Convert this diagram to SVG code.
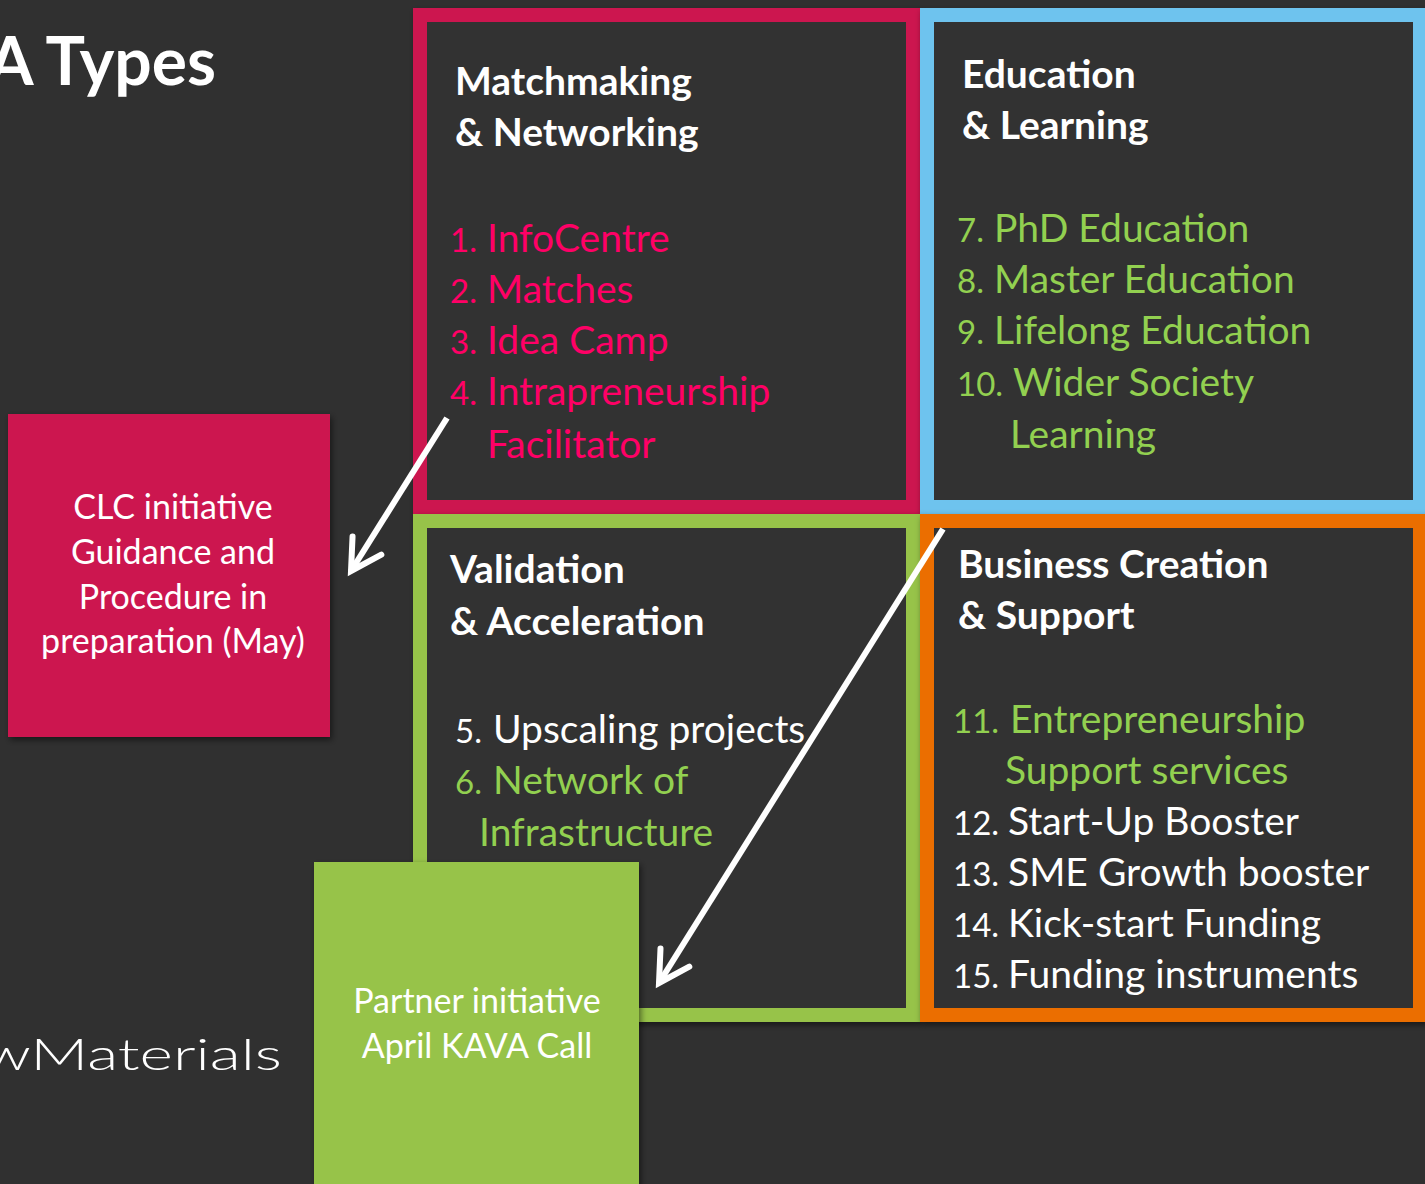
<svg xmlns="http://www.w3.org/2000/svg" width="1425" height="1184" viewBox="0 0 1425 1184">
<style>
text{font-family:Lato,"Open Sans","Liberation Sans",sans-serif}
.h{fill:#fff;font-weight:bold;font-size:39px}
.it{font-size:39px}
.num{font-size:33px}
.pink{fill:#ff0066}
.grn{fill:#92d050}
.wht{fill:#fff}
.frame{fill:#303030;stroke-width:14}
.lbl{fill:#fff;font-size:34px;text-anchor:middle}
.conn{stroke:#fff;stroke-width:6;fill:none;stroke-linecap:butt}
</style>
<defs>
<filter id="sh" x="-10%" y="-10%" width="120%" height="120%">
<feDropShadow dx="2" dy="3" stdDeviation="3" flood-color="#000" flood-opacity="0.5"/>
</filter>
<marker id="ah" markerUnits="userSpaceOnUse" viewBox="-40 -25 50 50" refX="0" refY="0" markerWidth="50" markerHeight="50" orient="auto">
<path d="M -30 -17 L 0 0 L -30 17" fill="none" stroke="#fff" stroke-width="6" stroke-linecap="round" stroke-linejoin="miter"/>
</marker>
</defs>
<rect x="0" y="0" width="1425" height="1184" fill="#303030"/>

<g id="title">
<text x="216" y="85" text-anchor="end" fill="#fff" font-weight="bold" font-size="66">A Types</text>
</g>

<g id="logo">
<text x="282" y="1070" text-anchor="end" fill="#fff" font-size="44" font-weight="300" textLength="300" lengthAdjust="spacingAndGlyphs">wMaterials</text>
</g>

<g id="box-matchmaking">
<rect x="420" y="15" width="493" height="492" class="frame" stroke="#cc1850" filter="url(#sh)"/>
<text class="h" x="455" y="95">Matchmaking</text>
<text class="h" x="455" y="146">&amp; Networking</text>
<text class="num pink" x="450" y="252">1.</text><text class="it pink" x="487" y="252">InfoCentre</text>
<text class="num pink" x="450" y="303">2.</text><text class="it pink" x="487" y="303">Matches</text>
<text class="num pink" x="450" y="354">3.</text><text class="it pink" x="487" y="354">Idea Camp</text>
<text class="num pink" x="450" y="405">4.</text><text class="it pink" x="487" y="405">Intrapreneurship</text>
<text class="it pink" x="487" y="458">Facilitator</text>
</g>

<g id="box-education">
<rect x="927" y="15" width="493" height="492" class="frame" stroke="#6ec3ee" filter="url(#sh)"/>
<text class="h" x="962" y="88">Education</text>
<text class="h" x="962" y="139">&amp; Learning</text>
<text class="num grn" x="957" y="242">7.</text><text class="it grn" x="994" y="242">PhD Education</text>
<text class="num grn" x="957" y="293">8.</text><text class="it grn" x="994" y="293">Master Education</text>
<text class="num grn" x="957" y="344">9.</text><text class="it grn" x="994" y="344">Lifelong Education</text>
<text class="num grn" x="957" y="396">10.</text><text class="it grn" x="1013" y="396">Wider Society</text>
<text class="it grn" x="1010" y="448">Learning</text>
</g>

<g id="box-validation">
<rect x="420" y="521" width="493" height="494" class="frame" stroke="#97c34a" filter="url(#sh)"/>
<text class="h" x="450" y="583">Validation</text>
<text class="h" x="450" y="635">&amp; Acceleration</text>
<text class="num wht" x="455" y="743">5.</text><text class="it wht" x="493" y="743">Upscaling projects</text>
<text class="num grn" x="455" y="794">6.</text><text class="it grn" x="493" y="794">Network of</text>
<text class="it grn" x="479" y="846">Infrastructure</text>
</g>

<g id="box-business">
<rect x="927" y="521" width="493" height="494" class="frame" stroke="#eb6e00" filter="url(#sh)"/>
<text class="h" x="958" y="578">Business Creation</text>
<text class="h" x="958" y="629">&amp; Support</text>
<text class="num grn" x="953" y="733">11.</text><text class="it grn" x="1010" y="733">Entrepreneurship</text>
<text class="it grn" x="1005" y="784">Support services</text>
<text class="num wht" x="953" y="835">12.</text><text class="it wht" x="1008" y="835">Start-Up Booster</text>
<text class="num wht" x="953" y="886">13.</text><text class="it wht" x="1008" y="886">SME Growth booster</text>
<text class="num wht" x="953" y="937">14.</text><text class="it wht" x="1008" y="937">Kick-start Funding</text>
<text class="num wht" x="953" y="988">15.</text><text class="it wht" x="1008" y="988">Funding instruments</text>
</g>

<g id="clc">
<rect x="8" y="414" width="322" height="323" fill="#cc1850" filter="url(#sh)"/>
<text class="lbl" x="173" y="519">CLC initiative</text>
<text class="lbl" x="173" y="564">Guidance and</text>
<text class="lbl" x="173" y="609">Procedure in</text>
<text class="lbl" x="173" y="653">preparation (May)</text>
</g>

<g id="partner">
<rect x="314" y="862" width="325" height="340" fill="#97c34a" filter="url(#sh)"/>
<text class="lbl" x="477" y="1013">Partner initiative</text>
<text class="lbl" x="477" y="1058">April KAVA Call</text>
</g>

<g id="connectors">
<line class="conn" x1="447" y1="418" x2="351" y2="571" marker-end="url(#ah)"/>
<line class="conn" x1="943" y1="529" x2="659" y2="983" marker-end="url(#ah)"/>
</g>
</svg>
